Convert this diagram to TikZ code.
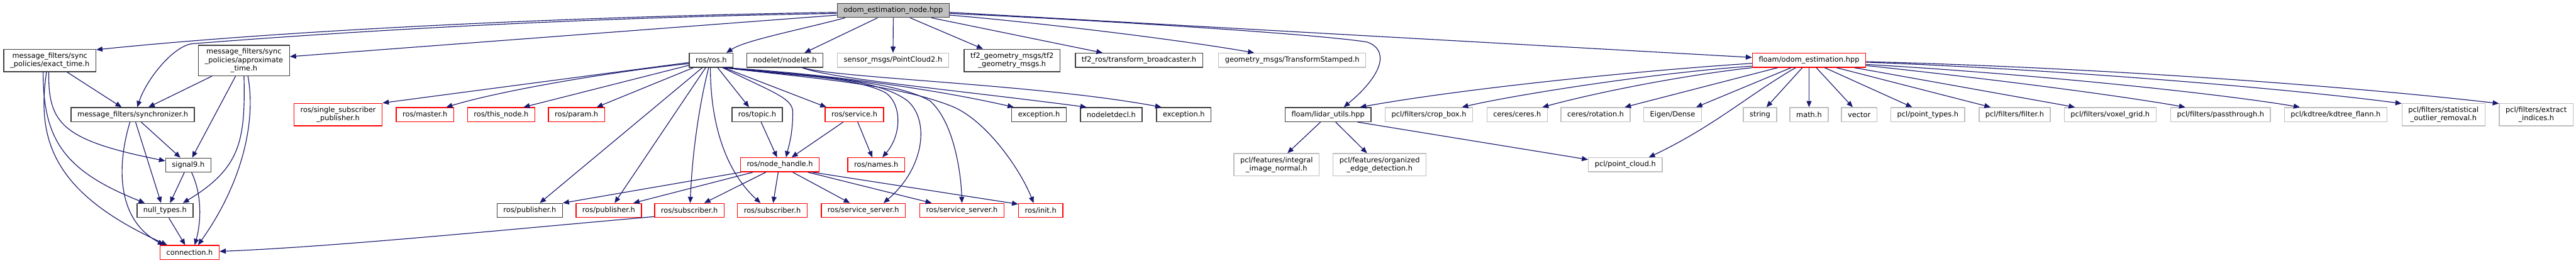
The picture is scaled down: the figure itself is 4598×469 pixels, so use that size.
\documentclass[tikz,border=0pt]{standalone}
\usepackage{fontspec}
\setmainfont{DejaVu Sans}
\usetikzlibrary{arrows.meta}
\definecolor{grey25}{HTML}{404040}
\definecolor{grey75}{HTML}{BFBFBF}
\definecolor{edgeblue}{HTML}{191970}

\begin{document}
\begin{tikzpicture}[
    x=1pt, y=-1pt,
    box/.style={rectangle, draw=grey25, line width=1.6pt, inner xsep=11.3pt, inner ysep=0pt, minimum height=25pt, align=center, font=\fontsize{12.8}{15}\selectfont},
    hdr/.style={box},
    sys/.style={box, draw=grey75},
    trunc/.style={box, draw=red},
    root/.style={box, fill=grey75},
    two/.style={minimum height=40pt},
    three/.style={minimum height=54pt},
    dep/.style={-{Triangle[length=11pt, width=9pt]}, draw=edgeblue, line width=1.3pt}
]
\useasboundingbox (0,0) rectangle (4598,469);

% top level
\node[root] (root) at (1594.5,18.5) {odom\_estimation\_node.hpp};
\node[hdr, two] (exact) at (89,108) {message\_filters/sync\\\_policies/exact\_time.h};
\node[hdr, three] (approx) at (435.5,108) {message\_filters/sync\\\_policies/approximate\\\_time.h};
\node[hdr] (sync) at (237,204.5) {message\_filters/synchronizer.h};
\node[hdr] (signal) at (336,294.5) {signal9.h};
\node[hdr] (nulltypes) at (294.5,375.5) {null\_types.h};
\node[trunc] (conn) at (338.5,450.5) {connection.h};

% ros
\node[hdr] (rosh) at (1269.5,107.5) {ros/ros.h};
\node[hdr] (nodelet) at (1401,107.5) {nodelet/nodelet.h};
\node[sys] (pctwo) at (1594,107.5) {sensor\_msgs/PointCloud2.h};
\node[hdr, two] (tfgeo) at (1806.5,108) {tf2\_geometry\_msgs/tf2\\\_geometry\_msgs.h};
\node[hdr] (tfros) at (2033,107.5) {tf2\_ros/transform\_broadcaster.h};
\node[sys] (tfstamp) at (2306.5,107.5) {geometry\_msgs/TransformStamped.h};
\node[trunc, two] (single) at (603.5,204.5) {ros/single\_subscriber\\\_publisher.h};
\node[trunc] (master) at (758.5,204.5) {ros/master.h};
\node[trunc] (thisnode) at (894.5,204.5) {ros/this\_node.h};
\node[trunc] (param) at (1029,204.5) {ros/param.h};
\node[hdr] (topic) at (1351.5,204.5) {ros/topic.h};
\node[trunc] (service) at (1525,204.5) {ros/service.h};
\node[hdr] (excA) at (1854.5,204.5) {exception.h};
\node[hdr] (decl) at (1983.5,204.5) {nodeletdecl.h};
\node[hdr] (excB) at (2113,204.5) {exception.h};
\node[trunc] (nh) at (1392,294) {ros/node\_handle.h};
\node[trunc] (names) at (1564,294) {ros/names.h};
\node[hdr] (pubA) at (945.5,375.5) {ros/publisher.h};
\node[trunc] (pubB) at (1086.5,375.5) {ros/publisher.h};
\node[trunc] (subA) at (1230.5,375.5) {ros/subscriber.h};
\node[trunc] (subB) at (1378.5,375.5) {ros/subscriber.h};
\node[trunc] (ssA) at (1541,375.5) {ros/service\_server.h};
\node[trunc] (ssB) at (1717,375.5) {ros/service\_server.h};
\node[trunc] (init) at (1857.5,375.5) {ros/init.h};

% floam
\node[hdr] (lidar) at (2370.5,204.5) {floam/lidar\_utils.hpp};
\node[sys, two] (integral) at (2278.5,294) {pcl/features/integral\\\_image\_normal.h};
\node[sys, two] (organized) at (2462.5,294) {pcl/features/organized\\\_edge\_detection.h};
\node[sys] (pcloud) at (2901,294) {pcl/point\_cloud.h};
\node[trunc] (odomest) at (3229,107.5) {floam/odom\_estimation.hpp};
\node[sys] (crop) at (2550.5,204.5) {pcl/filters/crop\_box.h};
\node[sys] (ceres) at (2708,204.5) {ceres/ceres.h};
\node[sys] (rotation) at (2848,204.5) {ceres/rotation.h};
\node[sys] (eigen) at (2985.5,204.5) {Eigen/Dense};
\node[sys] (string) at (3141.5,204.5) {string};
\node[sys] (math) at (3229,204.5) {math.h};
\node[sys] (vector) at (3318.5,204.5) {vector};
\node[sys] (ptypes) at (3441,204.5) {pcl/point\_types.h};
\node[sys] (filter) at (3596,204.5) {pcl/filters/filter.h};
\node[sys] (voxel) at (3766.5,204.5) {pcl/filters/voxel\_grid.h};
\node[sys] (pass) at (3963.5,204.5) {pcl/filters/passthrough.h};
\node[sys] (kdtree) at (4169,204.5) {pcl/kdtree/kdtree\_flann.h};
\node[sys, two] (stat) at (4361.5,204.5) {pcl/filters/statistical\\\_outlier\_removal.h};
\node[sys, two] (extract) at (4527,204.5) {pcl/filters/extract\\\_indices.h};

% edges from the file itself
\draw[dep] ([yshift=-3.5pt]root.west) .. controls (1000,30) and (500,55) .. ([yshift=-1.5pt]exact.north east);
\draw[dep] ([yshift=-5.5pt]root.west) .. controls (1000,32) and (600,58) .. (343,78) .. controls (310,82) and (262,140) .. ([xshift=8pt]sync.north);
\draw[dep] ([yshift=-8.5pt]root.west) -- ([yshift=7pt]approx.east);
\draw[dep] ([xshift=-86pt]root.south) .. controls (1420,55) and (1330,72) .. ([xshift=27pt]rosh.north);
\draw[dep] ([xshift=-28pt]root.south) -- ([xshift=35pt]nodelet.north);
\draw[dep] (root.south) -- (pctwo.north);
\draw[dep] ([xshift=30pt]root.south) -- ([xshift=-52pt]tfgeo.north);
\draw[dep] ([xshift=68pt]root.south) -- ([xshift=-65pt]tfros.north);
\draw[dep] ([yshift=-8.5pt]root.east) .. controls (1850,40) and (2100,70) .. ([xshift=-68pt]tfstamp.north);
\draw[dep] ([yshift=-5.5pt]root.east) .. controls (2000,38) and (2360,62) .. (2440,75) .. controls (2478,88) and (2472,130) .. ([xshift=28pt]lidar.north);
\draw[dep] ([yshift=-3.5pt]root.east) -- ([yshift=5pt]odomest.west);

% message_filters
\draw[dep] ([xshift=31pt]exact.south) -- ([xshift=-20pt]sync.north);
\draw[dep] ([xshift=-2pt]exact.south) .. controls (86,220) and (110,250) .. ([yshift=7.5pt]signal.west);
\draw[dep] ([xshift=-12pt]exact.south) .. controls (77,250) and (115,305) .. ([xshift=-36pt]nulltypes.north);
\draw[dep] ([xshift=-6pt]exact.south) .. controls (65,250) and (95,345) .. ([xshift=-40pt]conn.north);
\draw[dep] ([xshift=15pt]sync.south) -- ([xshift=-14pt]signal.north);
\draw[dep] ([xshift=5pt]sync.south) -- ([xshift=-7pt]nulltypes.north);
\draw[dep] ([xshift=-5pt]sync.south) .. controls (210,290) and (205,390) .. ([xshift=-46pt]conn.north);
\draw[dep] ([xshift=-7pt]signal.south) -- ([xshift=9pt]nulltypes.north);
\draw[dep] ([xshift=6pt]signal.south) .. controls (362,350) and (358,400) .. ([xshift=9pt]conn.north);
\draw[dep] ([xshift=7pt]nulltypes.south) -- ([xshift=-8pt]conn.north);
\draw[dep] ([xshift=-57pt]approx.south) -- ([xshift=28pt]sync.north);
\draw[dep] ([xshift=-15pt]approx.south) -- ([xshift=7pt]signal.north);
\draw[dep] (approx.south) .. controls (438,250) and (430,300) .. ([xshift=32pt]nulltypes.north);
\draw[dep] ([xshift=7pt]approx.south) .. controls (458,220) and (430,330) .. ([xshift=15pt]conn.north);
\draw[dep] ([yshift=-11pt]subA.west) .. controls (900,410) and (600,440) .. ([yshift=2pt]conn.east);

% ros/ros.h
\draw[dep] ([yshift=-4pt]rosh.west) -- (single.north east);
\draw[dep] ([yshift=-6pt]rosh.west) .. controls (1100,127) and (900,160) .. ([xshift=38pt]master.north);
\draw[dep] ([yshift=-9pt]rosh.west) -- ([xshift=40pt]thisnode.north);
\draw[dep] ([xshift=-32pt]rosh.south) -- ([xshift=36pt]param.north);
\draw[dep] ([xshift=-16pt]rosh.south) -- ([xshift=18pt]pubA.north);
\draw[dep] ([xshift=-10pt]rosh.south) -- ([xshift=10.5pt]pubB.north);
\draw[dep] ([xshift=-4.5pt]rosh.south) .. controls (1252,170) and (1236,260) .. ([xshift=1.5pt]subA.north);
\draw[dep] ([xshift=-1.5pt]rosh.south) .. controls (1268,230) and (1300,310) .. ([xshift=-21pt]subB.north);
\draw[dep] ([xshift=11.5pt]rosh.south) -- ([xshift=-14.5pt]topic.north);
\draw[dep] ([xshift=20.5pt]rosh.south) .. controls (1380,165) and (1415,175) .. (1415,200) .. controls (1415,240) and (1408,260) .. ([xshift=11pt]nh.north);
\draw[dep] ([xshift=22.5pt]rosh.south) -- ([xshift=-50pt]service.north);
\draw[dep] ([xshift=24pt]rosh.south) .. controls (1400,135) and (1520,135) .. (1580,165) .. controls (1610,185) and (1610,240) .. ([xshift=11pt]names.north);
\draw[dep] ([xshift=24pt]rosh.south) .. controls (1420,135) and (1560,135) .. (1620,180) .. controls (1660,215) and (1650,300) .. ([xshift=36pt]ssA.north);
\draw[dep] ([xshift=24pt]rosh.south) .. controls (1450,135) and (1600,145) .. (1660,180) .. controls (1700,215) and (1715,300) .. (ssB.north);
\draw[dep] ([xshift=24pt]rosh.south) .. controls (1450,140) and (1600,150) .. (1700,190) .. controls (1760,215) and (1820,300) .. ([xshift=-12.5pt]init.north);
\draw[dep] ([xshift=24pt]rosh.south) .. controls (1450,130) and (1650,155) .. ([xshift=-45pt]excA.north);
\draw[dep] ([xshift=31pt]nodelet.south) .. controls (1480,140) and (1700,160) .. ([xshift=-44pt]decl.north);
\draw[dep] ([xshift=31pt]nodelet.south) .. controls (1500,140) and (1850,150) .. ([xshift=-40pt]excB.north);
\draw[dep] ([xshift=7pt]topic.south) -- ([xshift=-5pt]nh.north);
\draw[dep] ([xshift=-20pt]service.south) -- ([xshift=21pt]nh.north);
\draw[dep] ([xshift=6pt]service.south) -- ([xshift=-7pt]names.north);

% ros/node_handle.h
\draw[dep] ([xshift=2pt]nh.south west) -- (pubA.north east);
\draw[dep] ([xshift=-48pt]nh.south) -- ([xshift=44pt]pubB.north);
\draw[dep] ([xshift=-25pt]nh.south) -- ([xshift=26.5pt]subA.north);
\draw[dep] ([xshift=-3pt]nh.south) -- ([xshift=1.5pt]subB.north);
\draw[dep] ([xshift=23pt]nh.south) -- ([xshift=-24pt]ssA.north);
\draw[dep] ([xshift=50pt]nh.south) -- ([xshift=-54pt]ssB.north);
\draw[dep] ([xshift=58pt]nh.south) -- ([yshift=-2pt]init.north west);

% floam
\draw[dep] ([xshift=-13.5pt]lidar.south) -- ([xshift=19.5pt]integral.north);
\draw[dep] ([xshift=13.5pt]lidar.south) -- ([xshift=-22.5pt]organized.north);
\draw[dep] ([xshift=52.5pt]lidar.south) -- ([yshift=-4pt]pcloud.north west);
\draw[dep] ([yshift=-5.5pt]odomest.west) .. controls (2900,128) and (2600,160) .. ([xshift=57pt]lidar.north);
\draw[dep] ([yshift=-10.5pt]odomest.west) .. controls (2950,130) and (2700,170) .. ([xshift=59pt]crop.north);
\draw[dep] (odomest.south west) .. controls (3000,135) and (2850,165) .. ([xshift=45pt]ceres.north);
\draw[dep] ([xshift=-56pt]odomest.south) -- ([xshift=52pt]rotation.north);
\draw[dep] ([xshift=-32pt]odomest.south) -- ([xshift=42pt]eigen.north);
\draw[dep] ([xshift=-24pt]odomest.south) .. controls (3120,170) and (3060,225) .. ([xshift=42pt]pcloud.north);
\draw[dep] ([xshift=-12pt]odomest.south) -- ([xshift=11.5pt]string.north);
\draw[dep] (odomest.south) -- (math.north);
\draw[dep] ([xshift=13pt]odomest.south) -- ([xshift=-11.5pt]vector.north);
\draw[dep] ([xshift=28pt]odomest.south) -- ([xshift=-28pt]ptypes.north);
\draw[dep] ([xshift=49pt]odomest.south) -- ([xshift=-43pt]filter.north);
\draw[dep] ([xshift=81pt]odomest.south) -- ([xshift=-63pt]voxel.north);
\draw[dep] ([yshift=-9.5pt]odomest.east) .. controls (3500,135) and (3750,165) .. ([xshift=-63pt]pass.north);
\draw[dep] ([yshift=-7.5pt]odomest.east) .. controls (3600,130) and (3950,165) .. ([xshift=-64pt]kdtree.north);
\draw[dep] ([yshift=-3.5pt]odomest.east) .. controls (3700,125) and (4100,160) .. ([yshift=-1pt]stat.north west);
\draw[dep] ([yshift=-2.5pt]odomest.east) .. controls (3800,122) and (4250,160) .. ([yshift=-1pt]extract.north west);
\end{tikzpicture}
\end{document}
